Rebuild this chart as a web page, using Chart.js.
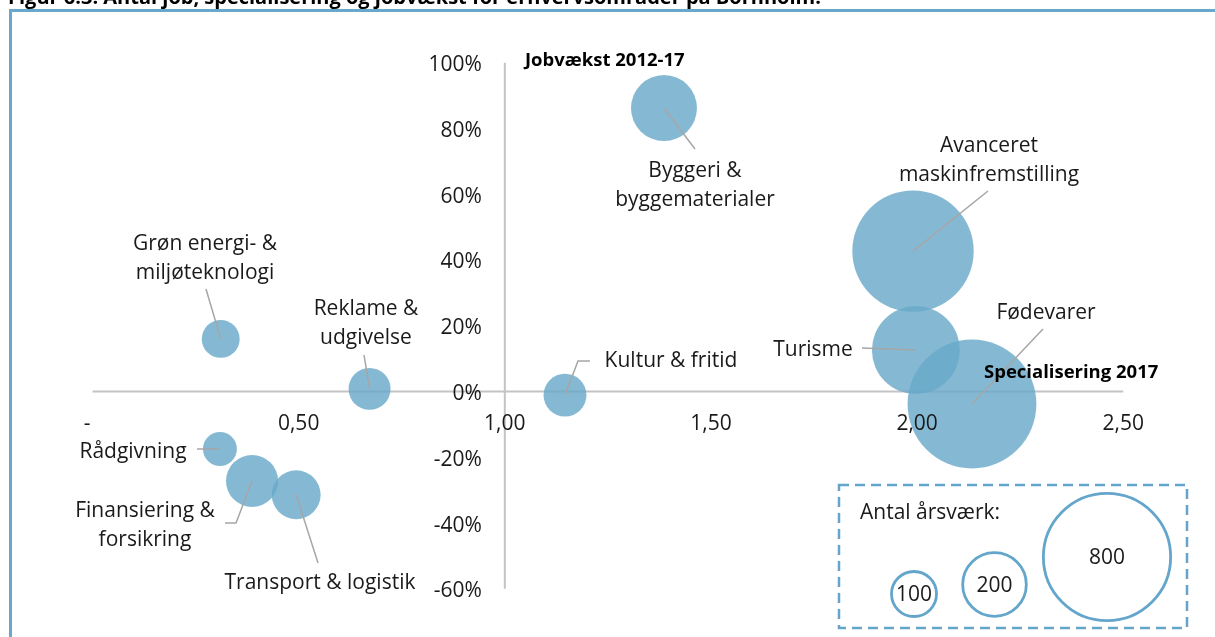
<!DOCTYPE html>
<html>
<head>
<meta charset="utf-8">
<script src="https://cdn.jsdelivr.net/npm/chart.js@4.4.0/dist/chart.umd.min.js"></script>
<style>
  html,body{margin:0;padding:0;background:#fff;overflow:hidden}
  canvas{display:block}
</style>
</head>
<body>
<canvas id="chart" width="1215" height="637"></canvas>
<script>
// data
const categories=["Byggeri & byggematerialer","Avanceret maskinfremstilling","Turisme","Fødevarer","Kultur & fritid","Reklame & udgivelse","Grøn energi- & miljøteknologi","Rådgivning","Finansiering & forsikring","Transport & logistik"];
const specialisering=[1.386,1.990,1.997,2.133,1.146,0.672,0.311,0.309,0.387,0.494];
const jobvaekst=[0.862,0.427,0.126,-0.038,-0.011,0.008,0.160,-0.175,-0.272,-0.314];
const aarsvaerk=[215,728,382,819,91,87,71,57,134,118];

const xTickValues=[0,0.5,1,1.5,2,2.5];
const xTickLabels=["-  ","0,50","1,00","1,50","2,00","2,50"];
const yTickValues=[1,0.8,0.6,0.4,0.2,0,-0.2,-0.4,-0.6];
const yTickLabels=["100%","80%","60%","40%","20%","0%","-20%","-40%","-60%"];
const legendSizes=[100,200,800];

const title="Figur 6.3: Antal job, specialisering og jobvækst for erhvervsområder på Bornholm.";
const FONT='"Open Sans", sans-serif';
const K=2.25; // px radius per sqrt(årsværk)
const rad=v=>K*Math.sqrt(v);
const TY=1.5; // small nudge so canvas 'middle' matches the ink centre

// label text + leader end points (pixels), same order as categories
const labelLayout=[
  {lines:["Byggeri &","byggematerialer"],x:695,y:170,leader:[[695,149]]},
  {lines:["Avanceret","maskinfremstilling"],x:989,y:145,leader:[[988,191]]},
  {lines:["Turisme"],x:813,y:349,leader:[[862,348]]},
  {lines:["Fødevarer"],x:1046,y:312,leader:[[1043,329]]},
  {lines:["Kultur & fritid"],x:671,y:360,leader:[[578,361],[590,361]]},
  {lines:["Reklame &","udgivelse"],x:366,y:308,leader:[[364,355]]},
  {lines:["Grøn energi- &","miljøteknologi"],x:205,y:243,leader:[[206,289]]},
  {lines:["Rådgivning"],x:133,y:451,leader:[[197,449]]},
  {lines:["Finansiering &","forsikring"],x:145,y:510,leader:[[236,523],[225,523]]},
  {lines:["Transport & logistik"],x:320,y:582,leader:[[318,563]]}
];

const bubbles=specialisering.map((v,i)=>({x:v,y:jobvaekst[i],r:rad(aarsvaerk[i])}));

const decor={
  id:'decor',
  beforeDatasetsDraw(chart){
    const {ctx,scales:{x,y}}=chart;
    ctx.save();
    // frame
    ctx.fillStyle='#6aa7cd';
    ctx.fillRect(9,9,1206,3);
    ctx.fillRect(9,9,3,628);
    // cut-off title
    ctx.fillStyle='#000';
    ctx.font='bold 20px '+FONT;
    ctx.textBaseline='alphabetic';
    ctx.textAlign='left';
    ctx.fillText(title,8,4);
    // crossing axes
    const x0=x.getPixelForValue(1), y0=y.getPixelForValue(0);
    ctx.strokeStyle='#c4c4c4';
    ctx.lineWidth=2;
    ctx.beginPath();
    ctx.moveTo(x.left,y0); ctx.lineTo(x.right,y0);
    ctx.moveTo(x0,y.top); ctx.lineTo(x0,y.bottom);
    ctx.stroke();
    ctx.restore();
  },
  afterDatasetsDraw(chart){
    const {ctx,scales:{x,y}}=chart;
    const x0=x.getPixelForValue(1), y0=y.getPixelForValue(0);
    ctx.save();
    // leader lines
    ctx.strokeStyle='#a6a6a6';
    ctx.lineWidth=1.5;
    labelLayout.forEach((l,i)=>{
      ctx.beginPath();
      ctx.moveTo(x.getPixelForValue(specialisering[i]),y.getPixelForValue(jobvaekst[i]));
      l.leader.forEach(p=>ctx.lineTo(p[0],p[1]));
      ctx.stroke();
    });
    // data labels
    ctx.fillStyle='#1a1a1a';
    ctx.font='21px '+FONT;
    ctx.textAlign='center';
    ctx.textBaseline='middle';
    labelLayout.forEach(l=>{
      l.lines.forEach((t,j)=>ctx.fillText(t,l.x,l.y+j*28.5+TY));
    });
    // tick labels
    yTickValues.forEach((v,i)=>{
      ctx.textAlign='right';
      ctx.fillText(yTickLabels[i],x0-23,y.getPixelForValue(v)+1+TY);
    });
    xTickValues.forEach((v,i)=>{
      ctx.textAlign='center';
      ctx.fillText(xTickLabels[i],x.getPixelForValue(v),y0+31+TY);
    });
    // axis titles
    ctx.fillStyle='#000';
    ctx.font='bold 18.5px '+FONT;
    ctx.textAlign='left';
    ctx.fillText("Jobvækst 2012-17",525,59+TY);
    ctx.fillText("Specialisering 2017",984,371+TY);
    // size legend
    ctx.strokeStyle='#64a6cb';
    ctx.lineWidth=2.5;
    ctx.setLineDash([10,6]);
    ctx.strokeRect(839,485,348,143);
    ctx.setLineDash([]);
    ctx.fillStyle='#1a1a1a';
    ctx.font='21px '+FONT;
    ctx.fillText("Antal årsværk:",860,512+TY);
    const cx=[914,994.5,1107], cy=[594,584.5,557];
    ctx.lineWidth=2.8;
    ctx.textAlign='center';
    legendSizes.forEach((s,i)=>{
      ctx.beginPath();
      ctx.arc(cx[i],cy[i],rad(s),0,Math.PI*2);
      ctx.fillStyle='#fff';
      ctx.fill();
      ctx.stroke();
      ctx.fillStyle='#1a1a1a';
      ctx.fillText(String(s),cx[i],cy[i]+TY);
    });
    ctx.restore();
  }
};

new Chart(document.getElementById('chart'),{
  type:'bubble',
  data:{labels:categories,datasets:[{
    label:'Erhvervsområder',
    data:bubbles,
    backgroundColor:'rgba(105,169,201,0.81)',
    borderWidth:0,
    hoverRadius:0,
    clip:false
  }]},
  options:{
    responsive:false,
    animation:false,
    events:[],
    layout:{autoPadding:false,padding:{left:92.5,right:91.7,top:62.7,bottom:48.2}},
    scales:{
      x:{type:'linear',min:0,max:2.5,display:false},
      y:{type:'linear',min:-0.6,max:1.0,display:false}
    },
    plugins:{legend:{display:false},tooltip:{enabled:false},title:{display:false}}
  },
  plugins:[decor]
});
</script>
</body>
</html>
